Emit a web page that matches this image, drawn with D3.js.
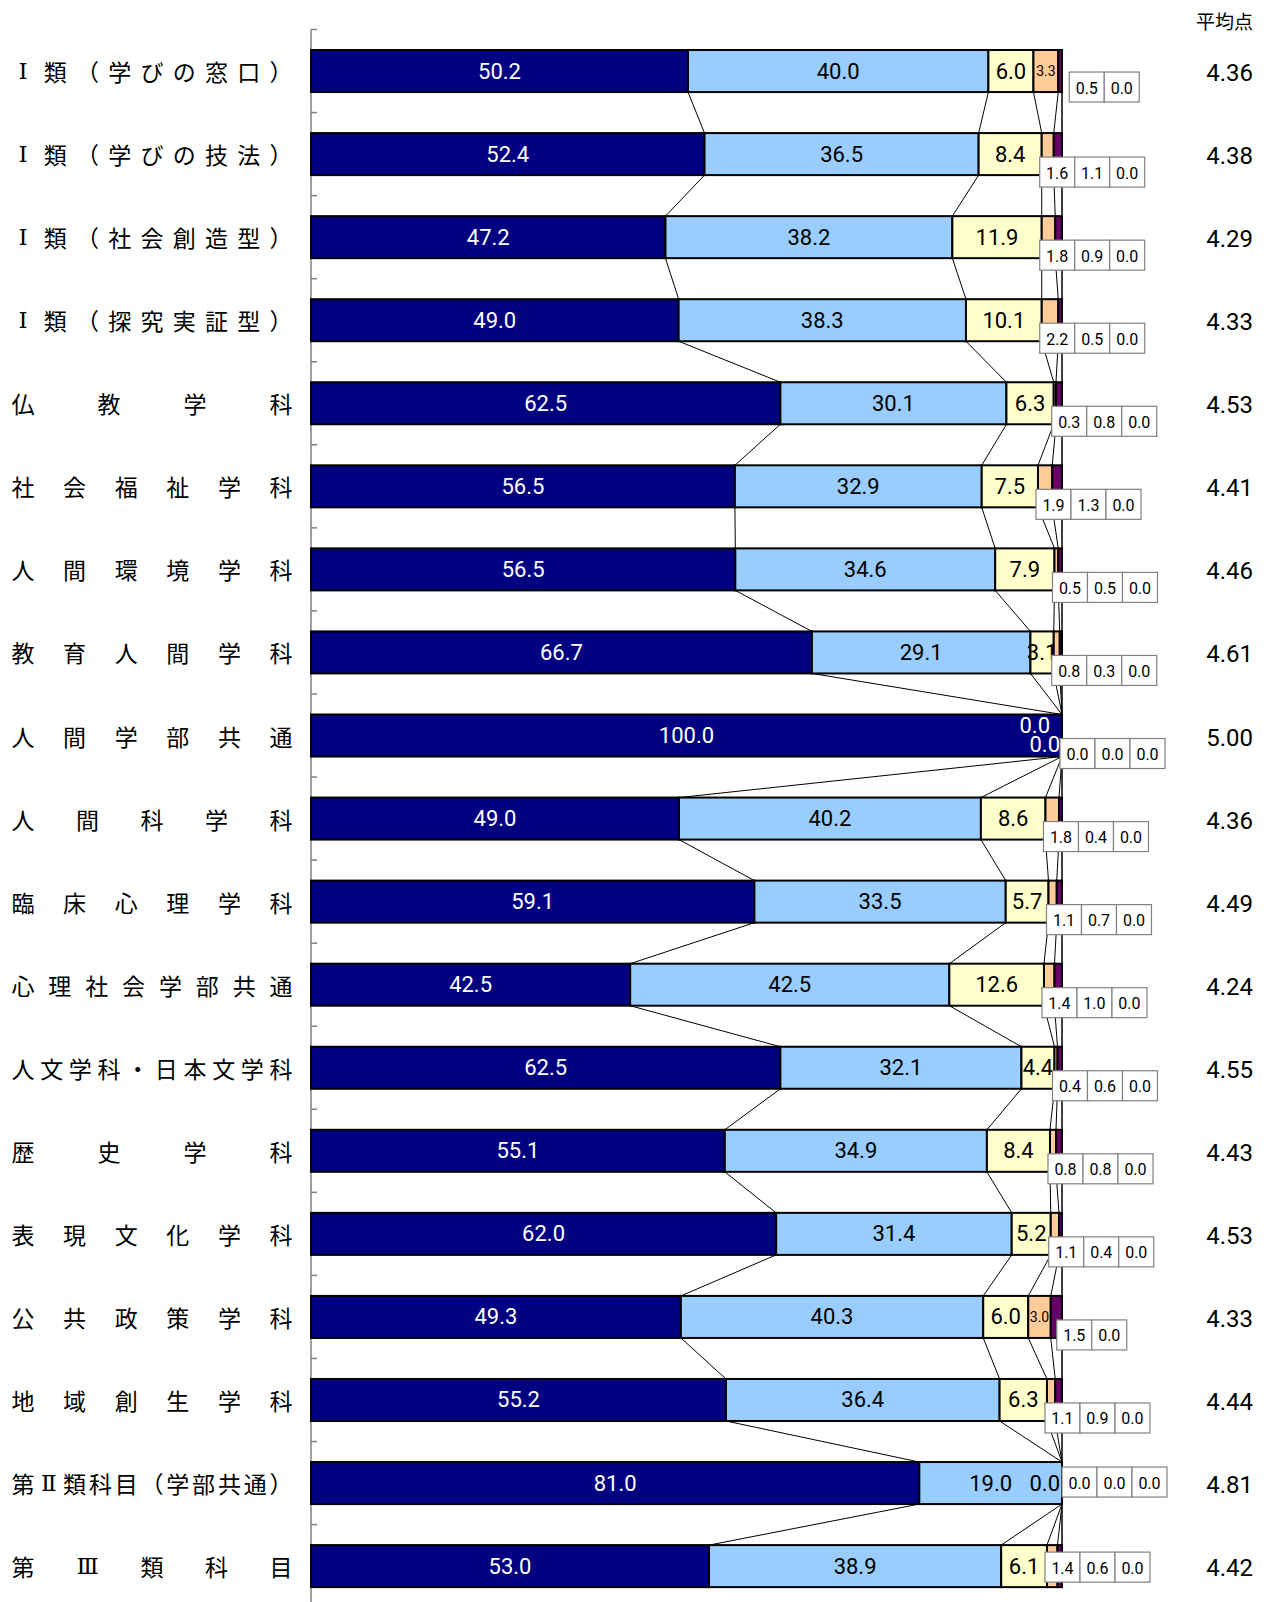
<!DOCTYPE html>
<html>
<head>
<meta charset="utf-8">
<script src="https://cdn.jsdelivr.net/npm/d3@7"></script>
<style>
  body { margin: 0; background: #fff; }
  svg { display: block; }
</style>
</head>
<body>
<div class="chart"></div>
<script>
// data
const categories = [
  "Ⅰ類（学びの窓口）", "Ⅰ類（学びの技法）", "Ⅰ類（社会創造型）", "Ⅰ類（探究実証型）",
  "仏教学科", "社会福祉学科", "人間環境学科", "教育人間学科", "人間学部共通",
  "人間科学科", "臨床心理学科", "心理社会学部共通", "人文学科・日本文学科",
  "歴史学科", "表現文化学科", "公共政策学科", "地域創生学科",
  "第Ⅱ類科目（学部共通）", "第Ⅲ類科目"
];
const val5 = [50.2, 52.4, 47.2, 49.0, 62.5, 56.5, 56.5, 66.7, 100.0, 49.0, 59.1, 42.5, 62.5, 55.1, 62.0, 49.3, 55.2, 81.0, 53.0];
const val4 = [40.0, 36.5, 38.2, 38.3, 30.1, 32.9, 34.6, 29.1, 0.0, 40.2, 33.5, 42.5, 32.1, 34.9, 31.4, 40.3, 36.4, 19.0, 38.9];
const val3 = [6.0, 8.4, 11.9, 10.1, 6.3, 7.5, 7.9, 3.1, 0.0, 8.6, 5.7, 12.6, 4.4, 8.4, 5.2, 6.0, 6.3, 0.0, 6.1];
const val2 = [3.3, 1.6, 1.8, 2.2, 0.3, 1.9, 0.5, 0.8, 0.0, 1.8, 1.1, 1.4, 0.4, 0.8, 1.1, 3.0, 1.1, 0.0, 1.4];
const val1 = [0.5, 1.1, 0.9, 0.5, 0.8, 1.3, 0.5, 0.3, 0.0, 0.4, 0.7, 1.0, 0.6, 0.8, 0.4, 1.5, 0.9, 0.0, 0.6];
const valNA = [0.0, 0.0, 0.0, 0.0, 0.0, 0.0, 0.0, 0.0, 0.0, 0.0, 0.0, 0.0, 0.0, 0.0, 0.0, 0.0, 0.0, 0.0, 0.0];
const averages = [4.36, 4.38, 4.29, 4.33, 4.53, 4.41, 4.46, 4.61, 5.00, 4.36, 4.49, 4.24, 4.55, 4.43, 4.53, 4.33, 4.44, 4.81, 4.42];
const avgTitle = "平均点";

const series = [val5, val4, val3, val2, val1, valNA];
const colors = ["#000080", "#99ccff", "#ffffcc", "#ffcc99", "#660066", "#ffffff"];

// hand-moved label boxes (offsets from the default spot)
const boxNudge = {
  "Ⅰ類（学びの窓口）": [13, -2],
  "公共政策学科": [8, 0],
  "第Ⅱ類科目（学部共通）": [2, -19],
  "第Ⅲ類科目": [0, -17]
};

const svgWidth = 1267;
const svgHeight = 1602;
const numFont = "Roboto, 'Liberation Sans', Arial, sans-serif";
const jpFont = "'Noto Sans CJK JP', 'Noto Sans CJK SC', sans-serif";
const romanFont = "'DejaVu Serif', 'Liberation Serif', serif";
const fmt = d3.format(".1f");

const svg = d3.select(".chart")
  .append("svg")
  .attr("width", svgWidth)
  .attr("height", svgHeight);

// scales
const xScale = d3.scaleLinear()
  .domain([0, 100])
  .range([311, 1062]);

const yScale = d3.scaleBand()
  .domain(categories)
  .range([29.5, 29.5 + 83.06 * categories.length])
  .paddingInner(0.494)
  .paddingOuter(0.247);

const bh = yScale.bandwidth();

// one row of segments per category, normalised to 100%
const rows = categories.map((c, i) => {
  const vals = series.map(s => s[i]);
  const total = d3.sum(vals);
  let acc = 0;
  const segs = vals.map((v, k) => {
    const s = { k: k, v: v, x0: acc / total * 100 };
    acc += v;
    s.x1 = acc / total * 100;
    return s;
  });
  return { cat: c, i: i, segs: segs };
});

// axis line and ticks between the categories
const step = yScale.step();
const y0 = yScale.range()[0];
svg.append("line")
  .attr("x1", xScale(0)).attr("x2", xScale(0))
  .attr("y1", y0).attr("y2", svgHeight)
  .attr("stroke", "#808080")
  .attr("stroke-width", 1.5);

svg.selectAll(".tick")
  .data(d3.range(categories.length + 1))
  .enter()
  .append("line")
  .attr("x1", xScale(0)).attr("x2", xScale(0) + 6)
  .attr("y1", d => y0 + d * step)
  .attr("y2", d => y0 + d * step)
  .attr("stroke", "#808080")
  .attr("stroke-width", 1.5);

// series lines between neighbouring bars
const links = [];
rows.forEach((r, i) => {
  if (i === rows.length - 1) return;
  const next = rows[i + 1];
  r.segs.forEach((s, k) => {
    links.push({
      xa: xScale(s.x1), ya: yScale(r.cat) + bh,
      xb: xScale(next.segs[k].x1), yb: yScale(next.cat)
    });
  });
});
svg.selectAll(".link")
  .data(links)
  .enter()
  .append("line")
  .attr("x1", d => d.xa).attr("y1", d => d.ya)
  .attr("x2", d => d.xb).attr("y2", d => d.yb)
  .attr("stroke", "#000")
  .attr("stroke-width", 1);

// bars
const rowGroups = svg.selectAll(".row")
  .data(rows)
  .enter()
  .append("g");

rowGroups.selectAll("rect")
  .data(r => r.segs.filter(s => s.v > 0).map(s => Object.assign({ cat: r.cat }, s)))
  .enter()
  .append("rect")
  .attr("x", d => xScale(d.x0))
  .attr("y", d => yScale(d.cat))
  .attr("width", d => xScale(d.x1) - xScale(d.x0))
  .attr("height", bh)
  .attr("fill", d => colors[d.k])
  .attr("stroke", "#000")
  .attr("stroke-width", 2);

// labels inside the bars: first three series, fourth one when it is wide enough
rows.forEach(r => {
  const cy = yScale(r.cat) + bh / 2;
  const inside = r.segs.filter(s => s.k < 3 || (s.k === 3 && s.v >= 3));
  const zeros = inside.filter(s => s.v === 0);
  inside.forEach(s => {
    const t = svg.append("text")
      .attr("font-family", numFont)
      .attr("dominant-baseline", "central")
      .text(fmt(s.v));
    if (s.v === 0) {
      // empty segments: label pushed against the bar end
      const j = zeros.indexOf(s);
      const stacked = zeros.length > 1;
      const under = r.segs.filter(o => o.k < s.k && o.v > 0).pop();
      t.attr("x", xScale(100) - 2 - (stacked && j === 0 ? 10 : 0))
        .attr("y", cy + (stacked ? (j === 0 ? -10 : 9) : 0))
        .attr("text-anchor", "end")
        .attr("font-size", 22)
        .attr("fill", under && under.k === 0 ? "#fff" : "#000");
    } else {
      t.attr("x", xScale((s.x0 + s.x1) / 2))
        .attr("y", cy)
        .attr("text-anchor", "middle")
        .attr("font-size", s.k === 3 ? 14 : 22)
        .attr("fill", s.k === 0 ? "#fff" : "#000");
    }
  });

  // small values shown in boxes next to the bar end
  const boxed = r.segs.filter(s => !(s.k < 3 || (s.k === 3 && s.v >= 3)));
  const nudge = boxNudge[r.cat] || [0, 0];
  const bx = xScale(boxed[0].x0) - 2 + nudge[0];
  const by = cy + 3 + nudge[1];
  const cw = 35, ch = 30;
  const cells = svg.append("g");
  boxed.forEach((s, j) => {
    cells.append("rect")
      .attr("x", bx + j * cw)
      .attr("y", by)
      .attr("width", cw)
      .attr("height", ch)
      .attr("fill", "#fff")
      .attr("stroke", "#808080")
      .attr("stroke-width", 1.2);
    cells.append("text")
      .attr("x", bx + j * cw + cw / 2)
      .attr("y", by + ch / 2 + 1)
      .attr("text-anchor", "middle")
      .attr("dominant-baseline", "central")
      .attr("font-family", numFont)
      .attr("font-size", 16)
      .attr("fill", "#000")
      .text(fmt(s.v));
  });
});

// category labels, characters spread evenly across the label column
rows.forEach(r => {
  const chars = Array.from(r.cat);
  const cx = d3.scaleLinear()
    .domain([0, chars.length - 1])
    .range([23, 281]);
  svg.append("g")
    .selectAll("text")
    .data(chars)
    .enter()
    .append("text")
    .attr("x", (d, j) => cx(j))
    .attr("y", yScale(r.cat) + bh / 2)
    .attr("text-anchor", "middle")
    .attr("dominant-baseline", "central")
    .attr("font-family", d => /[Ⅰ-Ⅲ]/.test(d) ? romanFont : jpFont)
    .attr("font-size", 23)
    .attr("fill", "#000")
    .text(d => d);
});

// average score column
svg.append("text")
  .attr("x", 1253)
  .attr("y", 20)
  .attr("text-anchor", "end")
  .attr("dominant-baseline", "central")
  .attr("font-family", jpFont)
  .attr("font-size", 19)
  .text(avgTitle);

svg.selectAll(".avg")
  .data(averages)
  .enter()
  .append("text")
  .attr("x", 1253)
  .attr("y", (d, i) => yScale(categories[i]) + bh / 2 + 2)
  .attr("text-anchor", "end")
  .attr("dominant-baseline", "central")
  .attr("font-family", numFont)
  .attr("font-size", 24)
  .attr("fill", "#000")
  .text(d => d3.format(".2f")(d));
</script>
</body>
</html>
